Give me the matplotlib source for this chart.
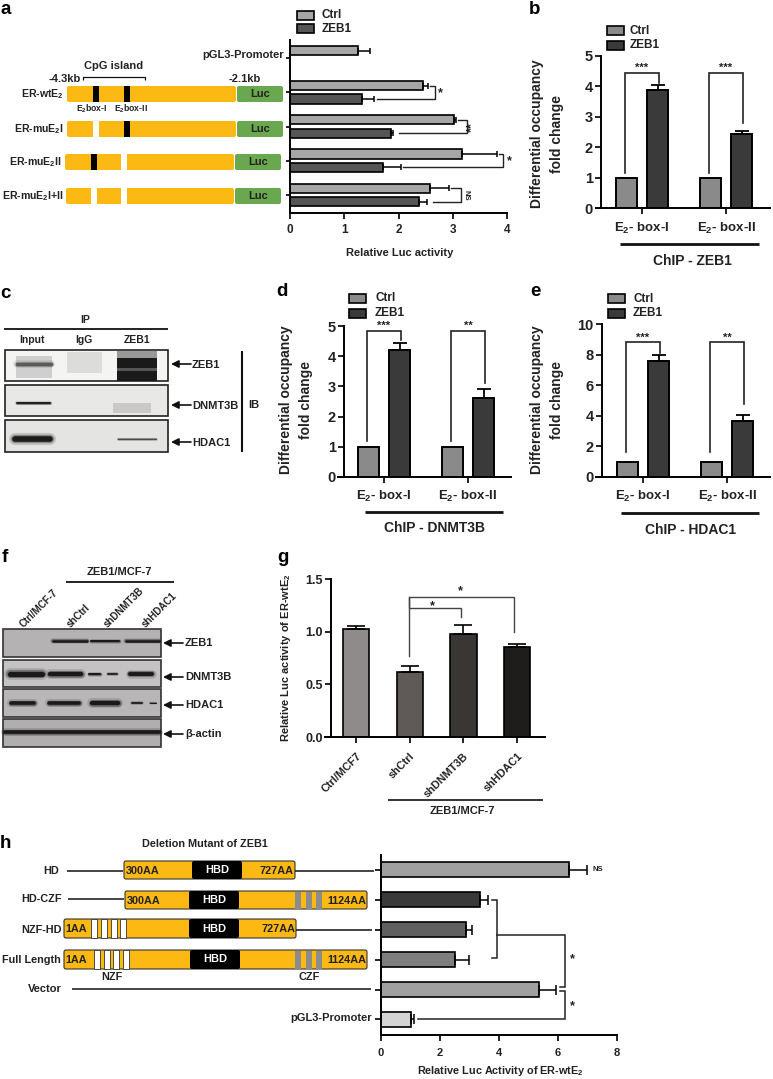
#!/usr/bin/python3

import matplotlib
matplotlib.use("Agg")
import matplotlib.pyplot as plt
from matplotlib.patches import Rectangle, FancyBboxPatch

plt.rcParams['font.family'] = ['Liberation Sans', 'DejaVu Sans']
plt.rcParams['font.weight'] = 'bold'
plt.rcParams['mathtext.default'] = 'regular'

W, H = 773, 1079
CTRL_COLOR = '#8a8a8a'
ZEB_COLOR = '#3a3a3a'
TXT = '#222222'
GOLD = '#fdb913'
GREEN = '#6aa84f'

# panel a
a_labels = ['pGL3-Promoter', 'ER-wtE$_2$', 'ER-muE$_2$I', 'ER-muE$_2$II', 'ER-muE$_2$I+II']
a_ctrl = [1.25, 2.45, 3.03, 3.17, 2.58]
a_ctrl_err = [0.22, 0.10, 0.03, 0.65, 0.35]
a_zeb = [1.33, 1.86, 1.71, 2.38]
a_zeb_err = [0.22, 0.04, 0.34, 0.15]

# panels b, d, e
box_labels = ['E$_2$- box-I', 'E$_2$- box-II']
b_ctrl, b_zeb, b_err = [1, 1], [3.87, 2.42], [0.17, 0.11]
d_ctrl, d_zeb, d_err = [1, 1], [4.2, 2.6], [0.25, 0.31]
e_ctrl, e_zeb, e_err = [1, 1], [7.6, 3.65], [0.38, 0.4]

# panel g
g_labels = ['Ctrl/MCF7', 'shCtrl', 'shDNMT3B', 'shHDAC1']
g_vals = [1.03, 0.62, 0.98, 0.85]
g_err = [0.025, 0.055, 0.08, 0.03]
g_colors = ['#8f8b8b', '#5f5a58', '#3a3634', '#1f1d1c']

# panel h
h_vals = [6.37, 3.37, 2.88, 2.5, 5.37, 1.0]
h_err = [0.62, 0.27, 0.2, 0.47, 0.55, 0.13]
h_colors = ['#a0a0a0', '#3a3a3a', '#606060', '#7e7e7e', '#a0a0a0', '#d4d4d4']


def axes_px(fig, x0, y0, x1, y1):
    ax = fig.add_axes([x0 / W, 1 - y1 / H, (x1 - x0) / W, (y1 - y0) / H])
    ax.patch.set_visible(False)
    ax.spines.right.set_visible(False)
    ax.spines.top.set_visible(False)
    ax.spines.left.set_linewidth(1.4)
    ax.spines.bottom.set_linewidth(1.4)
    ax.tick_params(width=1.4, length=4, colors=TXT, pad=2)
    return ax


def line(ov, xs, ys, lw=1.0, color='#111111'):
    ov.plot(xs, ys, color=color, lw=lw, solid_capstyle='butt', clip_on=False)


def text(ov, x, y, s, size=8, ha='center', va='center', color=TXT, **kw):
    ov.text(x, y, s, fontsize=size, ha=ha, va=va, color=color, **kw)


def bracket(ax, xs, ys, lw=1.2, color='#222222'):
    ax.plot(xs, ys, color=color, lw=lw, clip_on=False, solid_joinstyle='miter')


def grouped(fig, x_start, x_left, x_end, t0, y_zero, y_top, ymax, yticks, ctrl, zeb, err, brk, stars):
    sp = 84.0
    ax = axes_px(fig, x_start, y_top, x_end, y_zero)
    ax.set_xlim((x_start - t0) / sp, (x_end - t0) / sp)
    ax.set_ylim(0, ymax)
    ax.spines.left.set_position(('data', (x_left - t0) / sp))
    for i in range(2):
        ax.bar(i - 0.185, ctrl[i], 0.25, color=CTRL_COLOR, edgecolor='black', lw=1.4)
        ax.bar(i + 0.185, zeb[i], 0.25, color=ZEB_COLOR, edgecolor='black', lw=1.4)
        ax.errorbar(i + 0.185, zeb[i], yerr=[[0], [err[i]]], color='black', lw=1.3, capsize=5, capthick=1.3)
        top, left_end, right_end = brk[i]
        bracket(ax, [i - 0.2, i - 0.2, i + 0.2, i + 0.2], [left_end, top, top, right_end])
        ax.text(i, top, stars[i], ha='center', va='bottom', fontsize=8, color=TXT, linespacing=0)
    ax.set_xticks([0, 1])
    ax.set_xticklabels([])
    ax.set_yticks(yticks)
    ax.tick_params(axis='y', labelsize=10.5)
    return ax


def legend(ov, x, y1, y2, tx, c1=CTRL_COLOR, c2=ZEB_COLOR):
    for y, c, s in [(y1, c1, 'Ctrl'), (y2, c2, 'ZEB1')]:
        ov.add_patch(Rectangle((x, y - 4.5), 17, 9, fc=c, ec='black', lw=1.2))
        text(ov, tx, y, s, size=8.5, ha='left')


def gene(ov, x0, x1, y0, y1, color=GOLD, ec='none'):
    ov.add_patch(FancyBboxPatch((x0 + 2, y0 + 2), x1 - x0 - 4, y1 - y0 - 4,
                                boxstyle='round,pad=2,rounding_size=2', fc=color, ec=ec, lw=0.8))


def band(ov, x0, x1, y, lw, color='#111111'):
    # layered strokes give the soft edge of a scanned blot band
    for scale, alpha in [(2.2, 0.15), (1.5, 0.35), (1.0, 0.9)]:
        ov.plot([x0, x1], [y, y], color=color, lw=lw * scale, alpha=alpha, solid_capstyle='round')


def arrow(ov, x0, x1, y, lw=1.2):
    ov.annotate('', xy=(x0, y), xytext=(x1, y),
                arrowprops=dict(arrowstyle='-|>', color='#111111', lw=lw, shrinkA=0, shrinkB=0, mutation_scale=11))


fig = plt.figure(figsize=(W / 100, H / 100), dpi=100)
ov = fig.add_axes([0, 0, 1, 1], zorder=5)
ov.set_xlim(0, W)
ov.set_ylim(H, 0)
ov.axis('off')
ov.patch.set_visible(False)

for s, x, y in [('a', 6, 10), ('b', 535, 9), ('c', 5, 293), ('d', 282, 292), ('e', 535, 292), ('f', 5, 558),
                ('g', 283, 558), ('h', 5, 843)]:
    text(ov, x, y, s, size=13.5, color='black')

# ---- panel a
ax = axes_px(fig, 290, 40, 507, 213)
ax.set_xlim(0, 4)
ax.set_ylim(4.525, -0.525)
off = 0.195
ax.barh(0 - 0.21, a_ctrl[0], 0.27, color='#a6a6a6', edgecolor='black', lw=1.2)
ax.errorbar(a_ctrl[0], -0.21, xerr=[[0], [a_ctrl_err[0]]], color='black', lw=1.1, capsize=2.5, capthick=1.1)
for i in range(1, 5):
    ax.barh(i - off, a_ctrl[i], 0.27, color='#a6a6a6', edgecolor='black', lw=1.2)
    ax.barh(i + off, a_zeb[i - 1], 0.27, color='#555555', edgecolor='black', lw=1.2)
    ax.errorbar(a_ctrl[i], i - off, xerr=[[0], [a_ctrl_err[i]]], color='black', lw=1.1, capsize=2.5, capthick=1.1)
    ax.errorbar(a_zeb[i - 1], i + off, xerr=[[0], [a_zeb_err[i - 1]]], color='black', lw=1.1, capsize=2.5, capthick=1.1)
ax.set_xticks([0, 1, 2, 3, 4])
ax.set_yticks(range(5))
ax.set_yticklabels([])
ax.tick_params(axis='x', labelsize=8.5, pad=4)
ax.tick_params(axis='y', length=3)
bracket(ax, [2.58, 2.67, 2.67, 1.6], [1 - off, 1 - off, 1 + off, 1 + off], lw=1.0)
bracket(ax, [3.1, 3.26, 3.26, 2.0], [2 - off, 2 - off, 2 + off, 2 + off], lw=1.0)
bracket(ax, [3.85, 3.93, 3.93, 2.09], [3 - off, 3 - off, 3 + off, 3 + off], lw=1.0)
bracket(ax, [2.97, 3.15, 3.15, 2.63], [4 - off, 4 - off, 4 + off, 4 + off], lw=1.0)
ax.text(2.77, 1.02, '*', fontsize=9, ha='center', va='center', color=TXT)
ax.text(3.36, 2.02, '**', fontsize=9, ha='center', va='center', color=TXT, rotation=90)
ax.text(4.04, 3.02, '*', fontsize=9, ha='center', va='center', color=TXT)
ax.text(3.25, 4.0, 'NS', fontsize=5.5, ha='center', va='center', color=TXT, rotation=270)
text(ov, 400, 253, 'Relative Luc activity', size=8)
legend(ov, 297, 15, 28.5, 322, '#a6a6a6', '#555555')
text(ov, 284, 55.5, a_labels[0], size=8, ha='right')

rows = [(86, 102, 67, 236, 237, 283, 93, 124, 'black', 'black', 63.5),
        (121, 137, 67, 236, 237, 283, 93, 124, 'white', 'black', 63.5),
        (154, 170, 65, 234, 235, 281, 91, 121, 'black', 'white', 62),
        (188, 204, 66, 234, 235, 281, 91, 121, 'white', 'white', 64)]
for i, (y0, y1, x0, x1, l0, l1, s1, s2, c1, c2, lab) in enumerate(rows):
    gene(ov, x0, x1, y0, y1)
    gene(ov, l0, l1, y0, y1, GREEN)
    ov.add_patch(Rectangle((s1, y0), 6, y1 - y0, fc=c1, ec='none'))
    ov.add_patch(Rectangle((s2, y0), 6, y1 - y0, fc=c2, ec='none'))
    text(ov, (l0 + l1) / 2, (y0 + y1) / 2, 'Luc', size=8)
    text(ov, lab, (y0 + y1) / 2, a_labels[i + 1], size=7.6, ha='right')
text(ov, 92, 109, 'E$_2$box-I', size=6.2)
text(ov, 130.5, 109, 'E$_2$box-II', size=6.2)
text(ov, 114, 66, 'CpG island', size=8)
line(ov, [83, 83, 145, 145], [80, 77, 77, 80], lw=0.9)
text(ov, 81, 78.5, '-4.3kb', size=8, ha='right')
text(ov, 245, 78.5, '-2.1kb', size=8)

# ---- panel b
grouped(fig, 596, 601, 770, 642, 208, 56, 5, range(6), b_ctrl, b_zeb, b_err,
        [(4.45, 1.16, 4.1), (4.45, 1.16, 2.78)], ['***', '***'])
legend(ov, 607, 30.5, 45.5, 630)
text(ov, 537, 134, 'Differential occupancy', size=10, rotation=90)
text(ov, 557, 134, 'fold change', size=10, rotation=90)
text(ov, 642, 228, box_labels[0], size=9.5)
text(ov, 726, 228, box_labels[1], size=9.5)
line(ov, [620, 759], [244, 244], lw=2)
text(ov, 692, 261, 'ChIP - ZEB1', size=10)

# ---- panel c
for y0, y1, c in [(350, 381, '#f4f4f2'), (385, 416, '#e8e8e6'), (420, 452, '#e4e4e2')]:
    ov.add_patch(Rectangle((5, y0), 163, y1 - y0, fc=c, ec='#222222', lw=1.2))
ov.add_patch(Rectangle((16, 356), 36, 22, fc='#cfcfcf', ec='none'))
band(ov, 17, 51, 364, 2.5, '#555555')
ov.add_patch(Rectangle((67, 352), 35, 21, fc='#dcdcda', ec='none'))
ov.add_patch(Rectangle((117, 350.5), 40, 8, fc='#999999', ec='none'))
ov.add_patch(Rectangle((117, 358), 40, 22.5, fc='#1a1a1a', ec='none'))
ov.add_patch(Rectangle((117, 368), 40, 3, fc='#555555', ec='none'))
band(ov, 17, 50, 403, 1.4)
ov.add_patch(Rectangle((113, 403), 38, 10, fc='#cbc8c8', ec='none'))
band(ov, 15, 50, 439, 4)
band(ov, 118, 156, 439, 1.0, '#444444')
text(ov, 85, 320, 'IP', size=7.5)
line(ov, [4, 168], [329, 329], lw=1.3)
text(ov, 32, 340, 'Input', size=7.5)
text(ov, 84, 340, 'IgG', size=7.5)
text(ov, 137, 340, 'ZEB1', size=7.5)
for s, y in [('ZEB1', 364), ('DNMT3B', 405), ('HDAC1', 442)]:
    arrow(ov, 171, 191, y)
    text(ov, 192, y + 1, s, size=8, ha='left')
line(ov, [242, 242], [351, 452], lw=1.5)
text(ov, 248, 405, 'IB', size=8, ha='left')

# ---- panel d
grouped(fig, 338, 344, 511, 384, 477, 326, 5, range(6), d_ctrl, d_zeb, d_err,
        [(4.83, 1.2, 4.55), (4.83, 1.2, 3.1)], ['***', '**'])
legend(ov, 349, 298, 313, 375)
text(ov, 286, 400, 'Differential occupancy', size=10, rotation=90)
text(ov, 306, 400, 'fold change', size=10, rotation=90)
text(ov, 384, 496, box_labels[0], size=9.5)
text(ov, 467, 496, box_labels[1], size=9.5)
line(ov, [365, 503], [512, 512], lw=2)
text(ov, 435, 528, 'ChIP - DNMT3B', size=10)

# ---- panel e
grouped(fig, 596, 602, 770, 643, 477, 324, 10, range(0, 11, 2), e_ctrl, e_zeb, e_err,
        [(8.8, 1.65, 8.1), (8.8, 1.65, 4.8)], ['***', '**'])
legend(ov, 608, 298.5, 313, 633)
text(ov, 537, 400, 'Differential occupancy', size=10, rotation=90)
text(ov, 557, 400, 'fold change', size=10, rotation=90)
text(ov, 643, 496, box_labels[0], size=9.5)
text(ov, 727, 496, box_labels[1], size=9.5)
line(ov, [621, 759], [513, 513], lw=2)
text(ov, 691, 530, 'ChIP - HDAC1', size=10)

# ---- panel f
for y0, y1, c in [(629, 657, '#b4b2b2'), (660, 687, '#c4c2c2'), (689, 717, '#b8b6b6'), (719, 747, '#b0aeae')]:
    ov.add_patch(Rectangle((3, y0), 158, y1 - y0, fc=c, ec='#333333', lw=1.2))
for x0, x1, y, lw in [(53, 87, 641, 1.8), (91, 119, 641, 1.5), (126, 159, 641, 1.8),
                      (10, 42, 674, 3.8), (50, 81, 674, 3.2), (89, 100, 674, 1.5), (108, 117, 674, 1.2), (130, 152, 674, 2.8),
                      (11, 34, 703, 2.6), (49, 79, 703, 2.6), (92, 118, 703, 3.2), (132, 142, 703, 1.2), (150, 156, 703, 0.8)]:
    band(ov, x0, x1, y, lw)
band(ov, 5, 159, 732, 2.6)
line(ov, [66, 174], [582, 582], lw=1.3)
text(ov, 119, 572, 'ZEB1/MCF-7', size=8)
for s, x in [('Ctrl/MCF-7', 25), ('shCtrl', 72), ('shDNMT3B', 109), ('shHDAC1', 147)]:
    ov.text(x, 629, s, fontsize=7, rotation=45, ha='left', va='bottom', rotation_mode='anchor', color=TXT)
for s, y in [('ZEB1', 643), ('DNMT3B', 677), ('HDAC1', 705), ('β-actin', 734)]:
    arrow(ov, 163, 183, y)
    text(ov, 185, y, s, size=8, ha='left')

# ---- panel g
sp = 53.7
ax = axes_px(fig, 325, 579, 545, 737)
ax.set_xlim((325 - 356) / sp, (545 - 356) / sp)
ax.set_ylim(0, 1.5)
ax.spines.left.set_position(('data', (331 - 356) / sp))
xs = list(range(4))
ax.bar(xs, g_vals, 0.49, color=g_colors, edgecolor='black', lw=1.2)
ax.errorbar(xs, g_vals, yerr=[[0] * 4, g_err], fmt='none', ecolor='black', elinewidth=1.2, capsize=6.5, capthick=1.2)
ax.set_xticks(xs)
ax.set_xticklabels(g_labels, rotation=45, ha='right', rotation_mode='anchor', fontsize=7.8)
ax.tick_params(axis='x', pad=6)
ax.set_yticks([0, 0.5, 1.0, 1.5])
ax.set_yticklabels(['0.0', '0.5', '1.0', '1.5'], fontsize=9)
bracket(ax, [0.98, 0.98, 2.94, 2.94], [0.77, 1.333, 1.333, 1.0], lw=1.0, color='#444444')
bracket(ax, [0.98, 0.98, 1.95, 1.95], [1.333, 1.22, 1.22, 1.137], lw=1.0, color='#444444')
ax.text(1.94, 1.38, '*', fontsize=9, ha='center', va='center', color=TXT)
ax.text(1.42, 1.24, '*', fontsize=9, ha='center', va='center', color=TXT)
line(ov, [388, 543], [800, 800], lw=1.2)
text(ov, 462, 811, 'ZEB1/MCF-7', size=8)
text(ov, 286, 658, 'Relative Luc activity of ER-wtE$_2$', size=8, rotation=90)

# ---- panel h
ax = axes_px(fig, 381, 855, 617, 1035)
ax.set_xlim(0, 8)
ax.set_ylim(5.52, -0.5)
ys = list(range(6))
ax.barh(ys, h_vals, 0.5, color=h_colors, edgecolor='black', lw=1.2)
ax.errorbar(h_vals, ys, xerr=[[0] * 6, h_err], fmt='none', ecolor='black', elinewidth=1.1, capsize=3.5, capthick=1.1)
ax.set_xticks([0, 2, 4, 6, 8])
ax.set_yticks(ys)
ax.set_yticklabels([])
ax.tick_params(axis='x', labelsize=8, pad=5)
ax.tick_params(axis='y', length=4)
bracket(ax, [3.77, 3.92, 3.92, 3.77], [1.0, 1.0, 2.94, 2.94], lw=1.1)
bracket(ax, [3.92, 6.25, 6.25, 6.08], [2.17, 2.17, 3.93, 3.93], lw=1.1)
bracket(ax, [6.08, 6.25, 6.25, 1.27], [4.04, 4.04, 4.99, 4.99], lw=1.1)
ax.text(6.48, 2.98, '*', fontsize=9, ha='center', va='center', color=TXT)
ax.text(6.48, 4.55, '*', fontsize=9, ha='center', va='center', color=TXT)
ax.text(7.35, -0.02, 'NS', fontsize=5.5, ha='center', va='center', color=TXT)
text(ov, 500, 1071, 'Relative Luc Activity of ER-wtE$_2$', size=7.8)
text(ov, 372, 1018, 'pGL3-Promoter', size=8, ha='right')

text(ov, 205, 844, 'Deletion Mutant of ZEB1', size=7.8)
czf = [295, 306, 316]
h_rows = [('HD', 59, 871, 861, 879, 124, 295, 192, '300AA', '727AA', None, False),
          ('HD-CZF', 62, 899, 891, 909, 125, 367, 189, '300AA', '1124AA', None, True),
          ('NZF-HD', 62, 930, 919, 938, 64, 296, 189, '1AA', '727AA', [91, 101, 111, 120], False),
          ('Full Length', 61, 960, 950, 969, 64, 367, 190, '1AA', '1124AA', [94, 104, 113, 123], True)]
for name, lab_x, lab_y, y0, y1, x0, x1, hbd, left, right, nzf, has_czf in h_rows:
    text(ov, lab_x, lab_y, name, size=7.8, ha='right')
    gene(ov, x0, x1, y0, y1, ec='#333333')
    if nzf:
        for x in nzf:
            ov.add_patch(Rectangle((x, y0), 6, y1 - y0, fc='white', ec='#333333', lw=0.6))
    if has_czf:
        for x in czf:
            ov.add_patch(Rectangle((x, y0 + 0.5), 6, y1 - y0 - 1, fc='#8c8c8c', ec='none'))
    gene(ov, hbd, hbd + 50, y0, y1, color='black')
    text(ov, hbd + 25, (y0 + y1) / 2, 'HBD', size=8, color='white')
    text(ov, x0 + 1.5, (y0 + y1) / 2 + 0.5, left, size=7.8, ha='left')
    text(ov, x1 - 1, (y0 + y1) / 2 + 0.5, right, size=7.8, ha='right')
line(ov, [67, 123], [871, 871], lw=1.1)
line(ov, [295, 374], [871, 871], lw=1.1)
line(ov, [68, 124], [899, 899], lw=1.1)
line(ov, [296, 372], [930, 930], lw=1.1)
text(ov, 112, 977, 'NZF', size=7.8)
text(ov, 309, 977, 'CZF', size=7.8)
text(ov, 62, 989, 'Vector', size=8, ha='right')
line(ov, [72, 371], [989, 989], lw=1.1)

fig.savefig('out.png', dpi=100)
